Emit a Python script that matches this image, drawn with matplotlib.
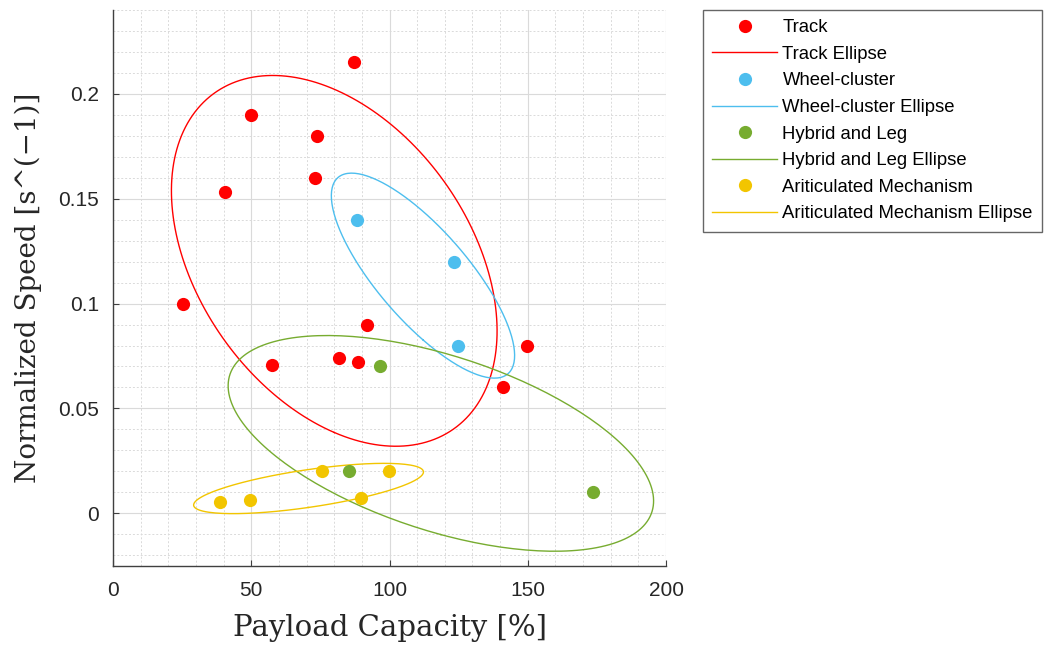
import numpy as np
import matplotlib
matplotlib.use("Agg")
import matplotlib.pyplot as plt

# Datos (capacidad de carga [%], velocidad normalizada)
track_x = [87.2, 50, 73.8, 73, 40.5, 25.3, 91.9, 57.5, 81.7, 88.6, 149.7, 141]
track_y = [0.215, 0.190, 0.180, 0.160, 0.153, 0.100, 0.090, 0.0705, 0.074, 0.072, 0.080, 0.060]

wheel_x = [88.2, 123.3, 124.8]
wheel_y = [0.140, 0.120, 0.080]

hybrid_x = [96.6, 85.4, 173.7]
hybrid_y = [0.070, 0.020, 0.010]

artic_x = [38.7, 49.7, 75.7, 99.8, 89.7]
artic_y = [0.0055, 0.0063, 0.020, 0.020, 0.0073]

names = ["Track", "Wheel-cluster", "Hybrid and Leg", "Ariticulated Mechanism"]
colors = ["#FF0000", "#4DBEEE", "#77AC30", "#F2C500"]
groups = [(track_x, track_y), (wheel_x, wheel_y), (hybrid_x, hybrid_y), (artic_x, artic_y)]

K = 1.6  # escala de la elipse


def ellipse(x, y, k=K, n=200):
    x = np.asarray(x, float)
    y = np.asarray(y, float)
    cov = np.cov(x, y)
    vals, vecs = np.linalg.eigh(cov)
    t = np.linspace(0, 2 * np.pi, n)
    circ = np.vstack([np.cos(t), np.sin(t)]) * np.sqrt(vals)[:, None] * k
    pts = vecs @ circ
    return pts[0] + x.mean(), pts[1] + y.mean()


fig = plt.figure(figsize=(10.44, 6.46), dpi=100)
ax = fig.add_axes([0.1082, 0.1243, 0.5298, 0.8602])

for (gx, gy), name, c in zip(groups, names, colors):
    ax.plot(gx, gy, "o", color=c, markersize=9.5, markeredgewidth=0, label=name, zorder=3)
    ex, ey = ellipse(gx, gy)
    ax.plot(ex, ey, "-", color=c, linewidth=1.0, label=name + " Ellipse", zorder=2)

ax.set_xlim(0, 200)
ax.set_ylim(-0.025, 0.24)
ax.set_xticks([0, 50, 100, 150, 200])
ax.set_yticks([0, 0.05, 0.1, 0.15, 0.2])
ax.set_yticklabels(["0", "0.05", "0.1", "0.15", "0.2"])
ax.set_xticks(np.arange(0, 201, 10), minor=True)
ax.set_yticks(np.arange(-0.02, 0.241, 0.01), minor=True)
ax.grid(True, which="major", color="#DADADA", linewidth=0.8)
ax.grid(True, which="minor", color="#DADADA", linestyle=(0, (2, 2)), linewidth=0.7)
ax.set_axisbelow(True)
ax.tick_params(which="major", direction="in", length=4, color="#404040",
               labelsize=15, labelcolor="#262626")
ax.tick_params(which="minor", length=0)
ax.tick_params(axis="x", pad=11)
ax.tick_params(axis="y", pad=10)
for lab in ax.get_xticklabels() + ax.get_yticklabels():
    lab.set_fontfamily("Liberation Sans")
ax.spines["top"].set_visible(False)
ax.spines["right"].set_visible(False)
for s in ["left", "bottom"]:
    ax.spines[s].set_color("#404040")
    ax.spines[s].set_linewidth(1.0)

ax.set_xlabel("Payload Capacity [%]", fontsize=21, family="DejaVu Serif", color="#262626",
              labelpad=10)
ax.set_ylabel("Normalized Speed [s^(\u22121)]", fontsize=20, family="DejaVu Serif",
              color="#262626", labelpad=12)

leg = fig.legend(loc="upper left", bbox_to_anchor=(703 / 1044, 1 - 10 / 646),
                 borderaxespad=0, frameon=True, fancybox=False, edgecolor="#404040",
                 borderpad=0.5, labelspacing=0.52, handlelength=3.5, handletextpad=0.3,
                 prop={"family": "Liberation Sans", "size": 13.3})
leg.get_frame().set_linewidth(1.0)

fig.savefig("out.png", dpi=100)
